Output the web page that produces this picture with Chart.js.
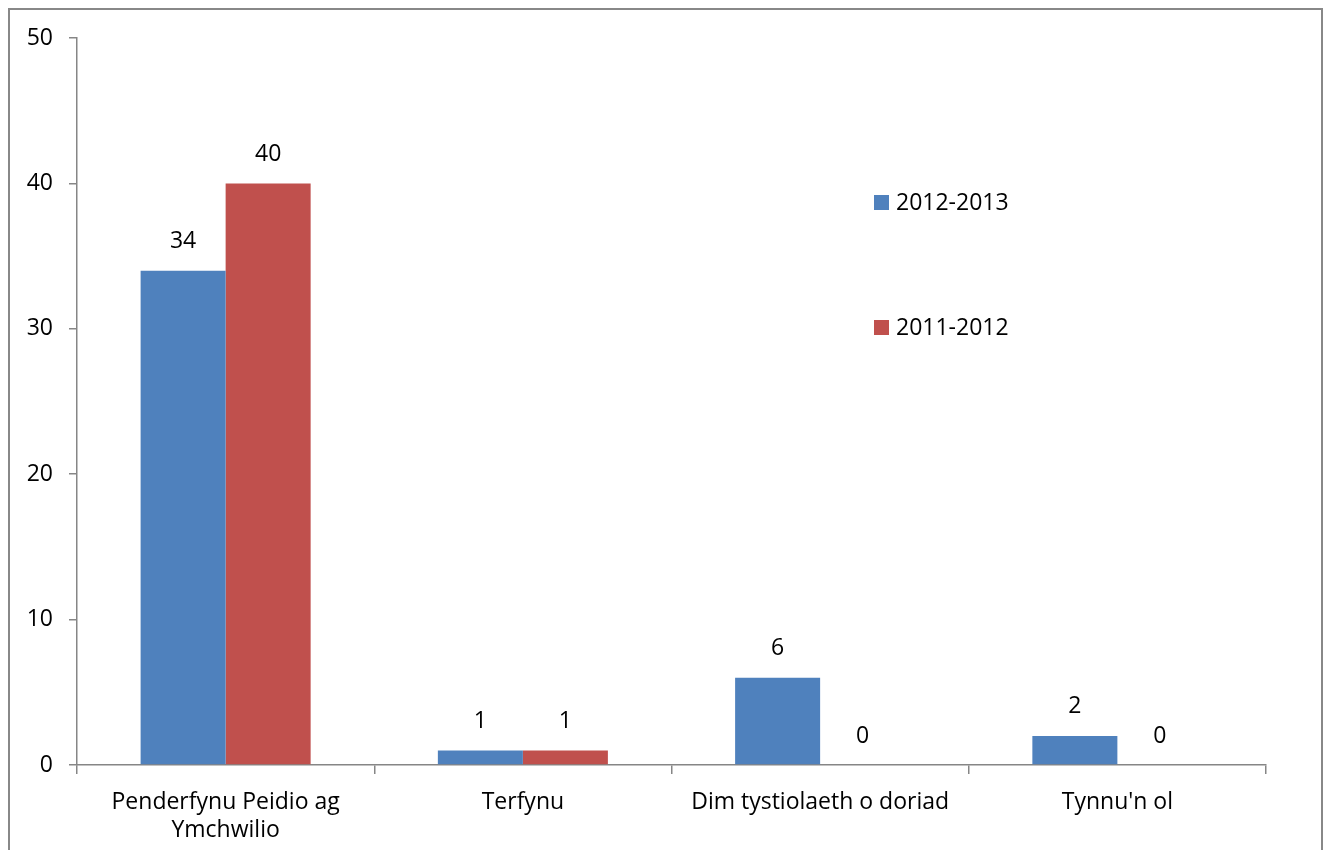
<!DOCTYPE html>
<html>
<head>
<meta charset="utf-8">
<script src="https://cdn.jsdelivr.net/npm/chart.js@4.4.1/dist/chart.umd.min.js"></script>
<style>
  html, body { margin: 0; padding: 0; background: #fff; overflow: hidden; }
  #frame { position: absolute; left: 8px; top: 8px; width: 1311px; height: 900px; border: 2px solid #888; }
  #wrap { position: absolute; left: 0; top: 0; width: 1330px; height: 850px; }
</style>
</head>
<body>
<div id="frame"></div>
<div id="wrap"><canvas id="chart" width="1330" height="850"></canvas></div>
<script>
// Categories and series
const categories = [['Penderfynu Peidio ag', 'Ymchwilio'], 'Terfynu', 'Dim tystiolaeth o doriad', "Tynnu'n ol"];
const series2012 = [34, 1, 6, 2];
const series2011 = [40, 1, 0, 0];
const seriesLabels = ['2012-2013', '2011-2012'];
const yTicks = [0, 10, 20, 30, 40, 50];

const FONT = "'Open Sans', sans-serif";
const AXIS = '#868686';

// Value labels drawn above each bar
const valueLabels = {
    id: 'valueLabels',
    afterDatasetsDraw(chart) {
        const ctx = chart.ctx;
        ctx.save();
        ctx.font = '23px ' + FONT;
        ctx.fillStyle = '#000';
        ctx.textAlign = 'center';
        ctx.textBaseline = 'middle';
        chart.data.datasets.forEach((ds, i) => {
            chart.getDatasetMeta(i).data.forEach((bar, j) => {
                ctx.fillText(String(ds.data[j]), bar.x, bar.y - 29);
            });
        });
        ctx.restore();
    }
};

// Legend sits inside the plot area, Excel style
const innerLegend = {
    id: 'innerLegend',
    afterDraw(chart) {
        const ctx = chart.ctx;
        const a = chart.chartArea;
        const x = a.left + 797;
        const rows = [203, 328];
        ctx.save();
        ctx.font = '23px ' + FONT;
        ctx.textBaseline = 'middle';
        chart.data.datasets.forEach((ds, i) => {
            const y = rows[i];
            ctx.fillStyle = ds.backgroundColor;
            ctx.fillRect(x, y - 8, 15, 15);
            ctx.fillStyle = '#000';
            ctx.fillText(ds.label, x + 22, y);
        });
        ctx.restore();
    }
};

new Chart(document.getElementById('chart'), {
    type: 'bar',
    data: {
        labels: categories,
        datasets: [
            { label: seriesLabels[0], data: series2012, backgroundColor: '#4F81BD' },
            { label: seriesLabels[1], data: series2011, backgroundColor: '#C0504D' }
        ]
    },
    options: {
        responsive: false,
        animation: false,
        devicePixelRatio: 1,
        layout: { padding: { left: 0, top: 38, right: 64, bottom: 0 } },
        datasets: { bar: { categoryPercentage: 0.572, barPercentage: 1.0 } },
        plugins: { legend: { display: false }, tooltip: { enabled: false } },
        scales: {
            x: {
                afterFit(s) { s.height = 85; },
                grid: { display: true, drawOnChartArea: false, drawTicks: true, tickLength: 9, color: AXIS, lineWidth: 1.5 },
                border: { display: true, color: AXIS, width: 1.5 },
                ticks: { color: '#000', font: { family: FONT, size: 23, lineHeight: 1.2 }, padding: 15, maxRotation: 0 }
            },
            y: {
                min: 0, max: 50,
                afterFit(s) { s.width = 77; },
                afterBuildTicks(s) { s.ticks = yTicks.map(v => ({ value: v })); },
                grid: { display: true, drawOnChartArea: false, drawTicks: true, tickLength: 8, color: AXIS, lineWidth: 1.5 },
                border: { display: true, color: AXIS, width: 1.5 },
                ticks: { color: '#000', font: { family: FONT, size: 23 }, padding: 16 }
            }
        }
    },
    plugins: [valueLabels, innerLegend]
});
</script>
</body>
</html>
